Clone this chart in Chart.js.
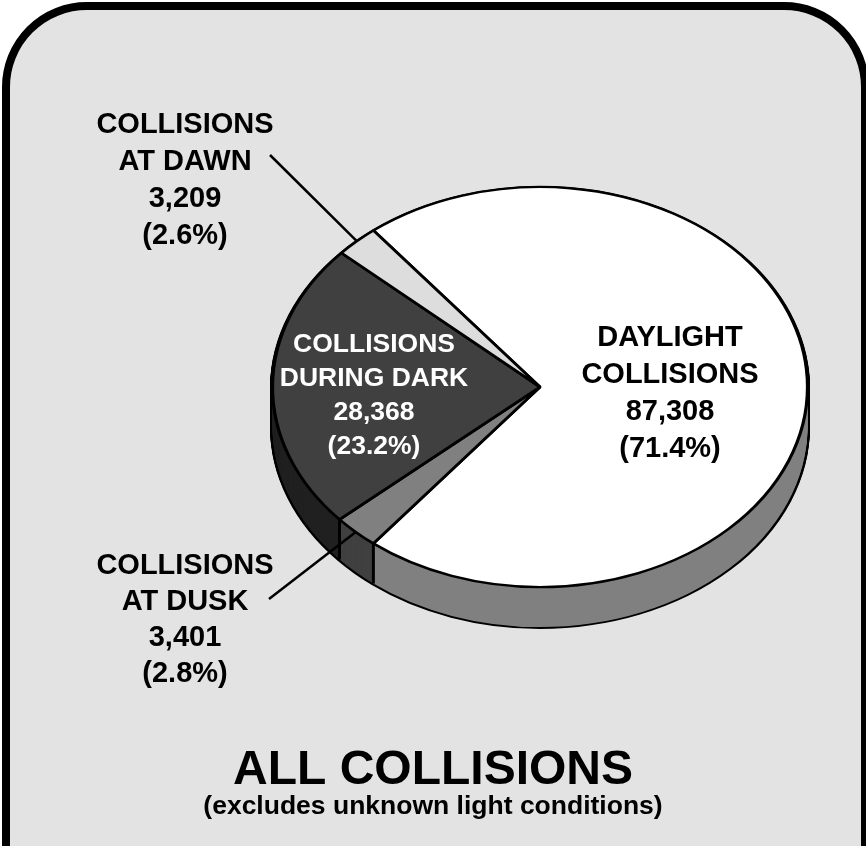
<!DOCTYPE html>
<html>
<head>
<meta charset="utf-8">
<style>
html, body { margin: 0; padding: 0; background: #fff; overflow: hidden; width: 866px; height: 846px; }
#frame { position: absolute; left: 2px; top: 2px; width: 851px; height: 950px; border: 8px solid #000; border-radius: 85px; background: #e3e3e3; }
canvas { position: absolute; left: 0; top: 0; }
</style>
</head>
<body>
<div id="frame"></div>
<canvas id="pie" width="866" height="846"></canvas>
<script src="https://cdn.jsdelivr.net/npm/chart.js@4/dist/chart.umd.min.js"></script>
<script>
// slices go clockwise starting at the upper left edge of the white one
const categories = ['DAYLIGHT COLLISIONS', 'COLLISIONS AT DUSK', 'COLLISIONS DURING DARK', 'COLLISIONS AT DAWN'];
const collisions = [87308, 3401, 28368, 3209];
const shares = ['71.4', '2.8', '23.2', '2.6'];
const labelLines = [['DAYLIGHT', 'COLLISIONS'], ['COLLISIONS', 'AT DUSK'], ['COLLISIONS', 'DURING DARK'], ['COLLISIONS', 'AT DAWN']];

const topColors = ['#ffffff', '#808080', '#404040', '#dddddd'];
const wallColors = ['#808080', '#404040', '#202020', '#dddddd'];
const textColors = ['#000000', '#000000', '#ffffff', '#000000'];

const FONT = '"Liberation Sans", Arial, sans-serif';
const centerX = 540, centerY = 387, radius = 267.5, squash = 0.748, depth = 40;

// where each label sits: centre x, y of first line, line step, font size
const labelPlace = [
    { x: 670, y: 338, step: 37, size: 29 },
    { x: 185, y: 566, step: 36, size: 29 },
    { x: 374, y: 345, step: 34, size: 26.5 },
    { x: 185, y: 125, step: 37, size: 29 }
];
// outer end of the leader lines, the inner end comes from the slice
const leaders = { 1: { x: 269, y: 599 }, 3: { x: 270, y: 155 } };

function tilt(ctx, arc, drop) {
    ctx.translate(centerX, centerY + drop);
    ctx.scale(1, squash);
    ctx.translate(-arc.x, -arc.y);
}

function edgePoint(arc, angle, drop) {
    return { x: centerX + Math.cos(angle) * radius, y: centerY + drop + Math.sin(angle) * radius * squash };
}

function drawLayer(ctx, arcs, drop, style) {
    arcs.forEach(function(arc, i) {
        const saved = arc.options;
        arc.options = Object.assign({}, saved, style(i));
        ctx.save();
        tilt(ctx, arc, drop);
        arc.draw(ctx);
        ctx.restore();
        arc.options = saved;
    });
}

const tiltedPie = {
    id: 'tiltedPie',
    beforeDatasetsDraw(chart) {
        const ctx = chart.ctx;
        const arcs = chart.getDatasetMeta(0).data;
        // black silhouette first, then the walls on top of it leave only the outline
        for (let d = depth; d > 0; d--) {
            drawLayer(ctx, arcs, d, function() {
                return { backgroundColor: '#000', borderColor: '#000', borderWidth: 5 };
            });
        }
        for (let d = depth; d > 0; d--) {
            drawLayer(ctx, arcs, d, function(i) {
                return { backgroundColor: wallColors[i], borderWidth: 0 };
            });
        }
        // seams on the front wall
        ctx.save();
        ctx.strokeStyle = '#000';
        ctx.lineWidth = 3;
        arcs.forEach(function(arc) {
            if (Math.sin(arc.startAngle) > 0) {
                const p = edgePoint(arc, arc.startAngle, 0);
                ctx.beginPath();
                ctx.moveTo(p.x, p.y);
                ctx.lineTo(p.x, p.y + depth);
                ctx.stroke();
            }
        });
        ctx.restore();
        // the library then draws the top face through this transform
        ctx.save();
        tilt(ctx, arcs[0], 0);
    },
    afterDatasetsDraw(chart) {
        const ctx = chart.ctx;
        const arcs = chart.getDatasetMeta(0).data;
        ctx.restore();

        ctx.save();
        ctx.strokeStyle = '#000';
        ctx.lineWidth = 2.5;
        Object.keys(leaders).forEach(function(i) {
            const arc = arcs[i];
            const p = edgePoint(arc, (arc.startAngle + arc.endAngle) / 2, 0);
            ctx.beginPath();
            ctx.moveTo(leaders[i].x, leaders[i].y);
            ctx.lineTo(p.x, p.y);
            ctx.stroke();
        });

        ctx.textAlign = 'center';
        ctx.textBaseline = 'middle';
        categories.forEach(function(name, i) {
            const place = labelPlace[i];
            const lines = labelLines[i].concat([collisions[i].toLocaleString('en-US'), '(' + shares[i] + '%)']);
            ctx.font = 'bold ' + place.size + 'px ' + FONT;
            ctx.fillStyle = textColors[i];
            lines.forEach(function(line, n) {
                ctx.fillText(line, place.x, place.y + n * place.step);
            });
        });
        ctx.restore();
    }
};

new Chart(document.getElementById('pie').getContext('2d'), {
    type: 'pie',
    data: {
        labels: categories,
        datasets: [{
            data: collisions,
            backgroundColor: topColors,
            borderColor: '#000',
            borderWidth: 3.2,
            radius: radius,
            clip: false
        }]
    },
    options: {
        responsive: false,
        animation: false,
        rotation: -38.5,
        events: [],
        plugins: {
            legend: { display: false },
            tooltip: { enabled: false },
            title: {
                display: true,
                position: 'bottom',
                weight: 1000,
                text: 'ALL COLLISIONS',
                color: '#000',
                font: { family: FONT, size: 48, weight: 'bold', lineHeight: 0.833 },
                padding: 0
            },
            subtitle: {
                display: true,
                position: 'bottom',
                weight: 1500,
                text: '(excludes unknown light conditions)',
                color: '#000',
                font: { family: FONT, size: 26.5, weight: 'bold', lineHeight: 1.2 },
                padding: { top: 0, bottom: 23.1 }
            }
        }
    },
    plugins: [tiltedPie]
});
</script>
</body>
</html>
